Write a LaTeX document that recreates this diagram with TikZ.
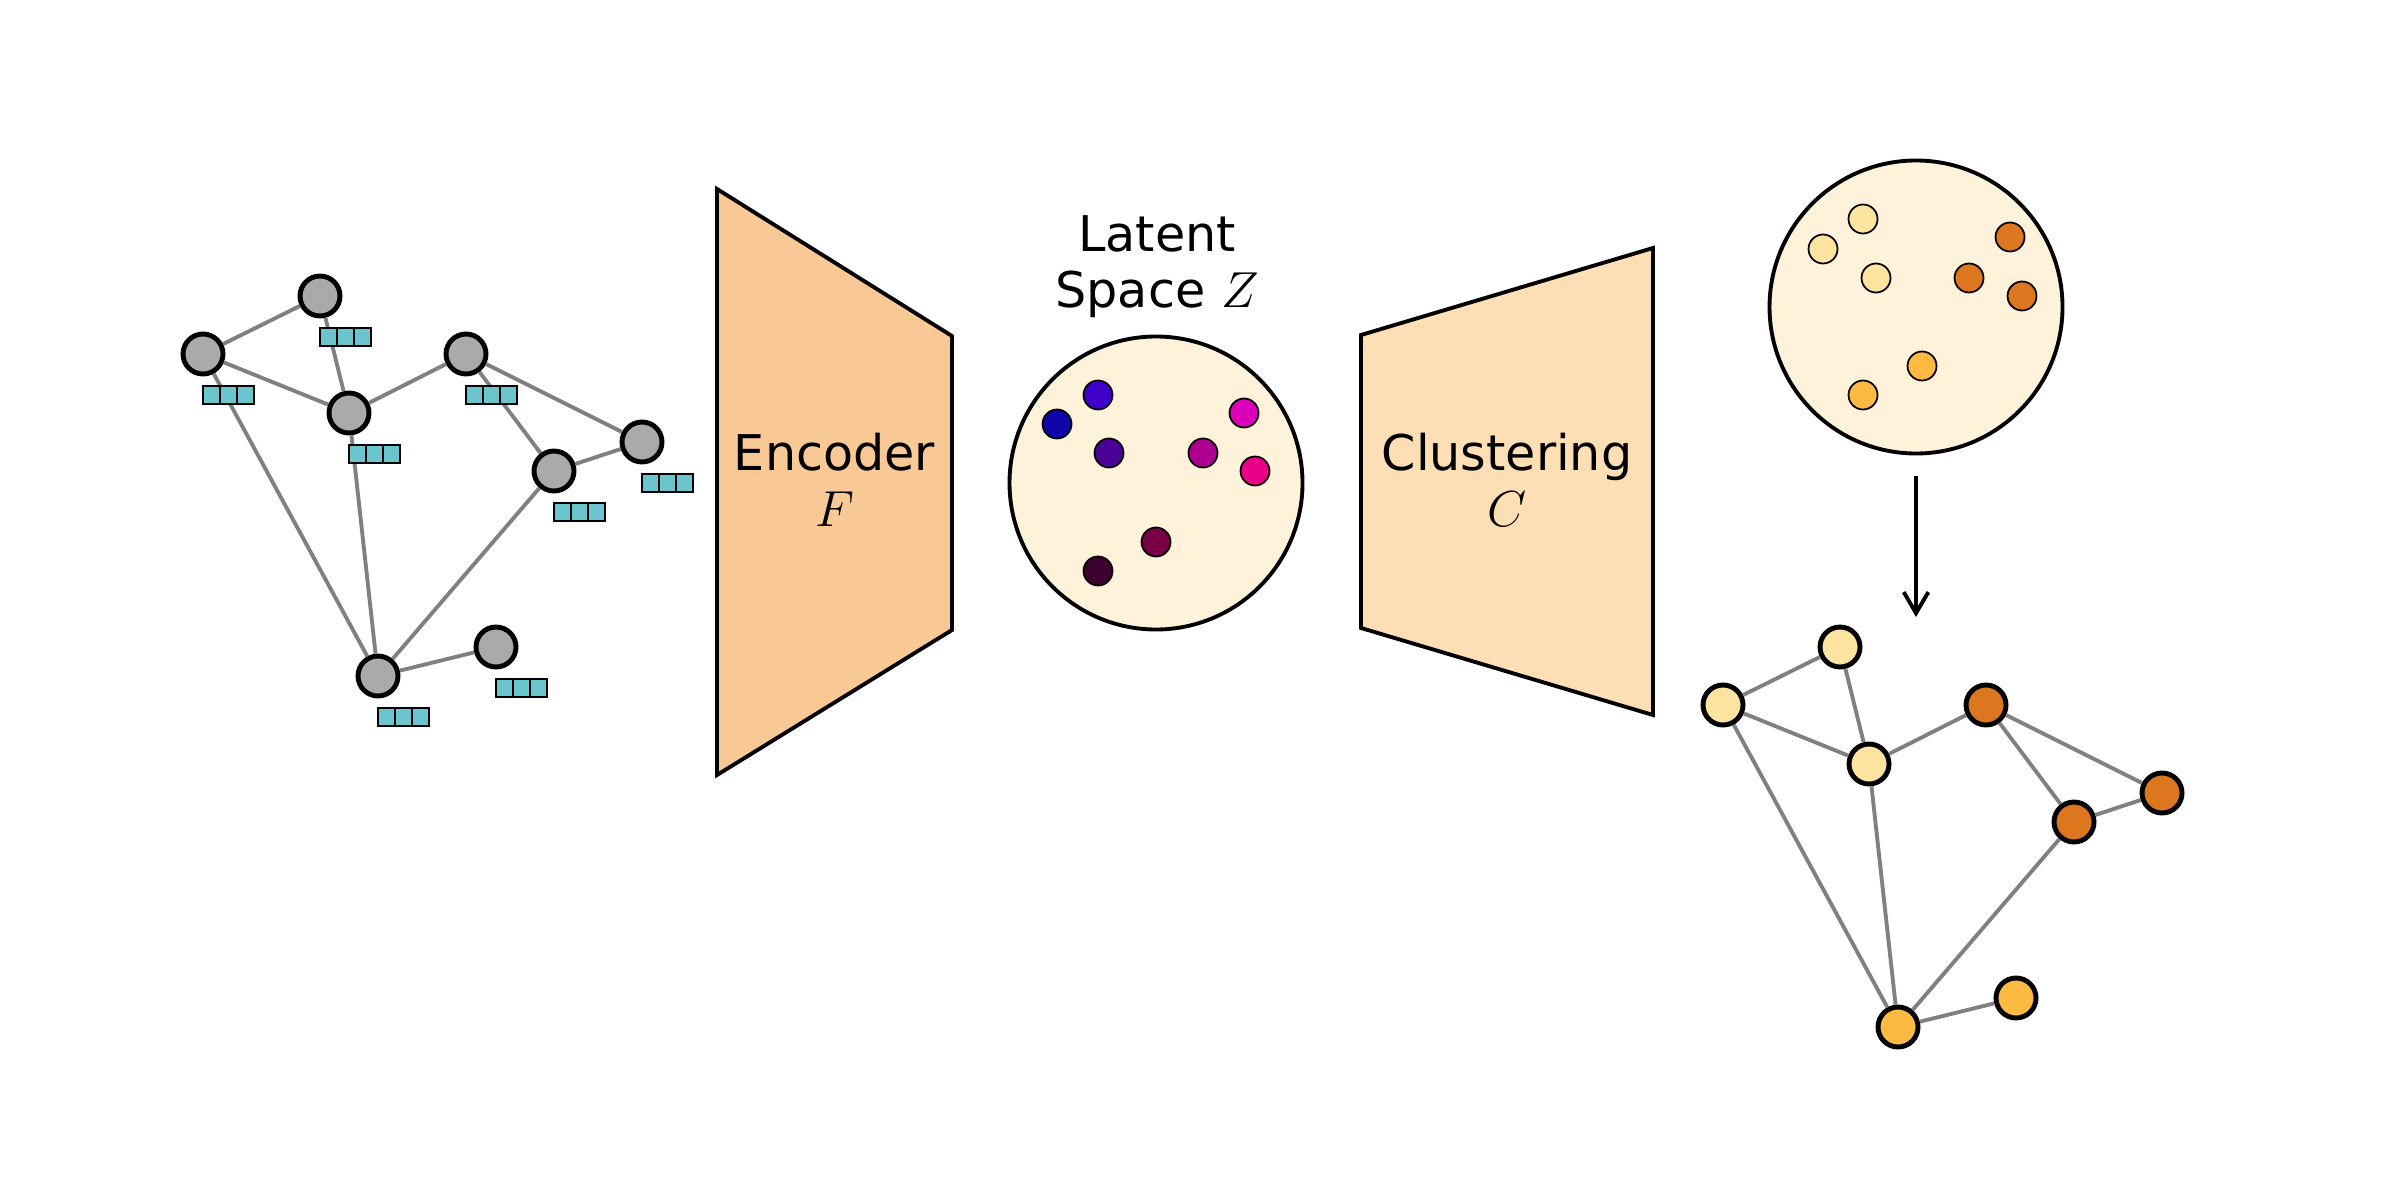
\documentclass[tikz,border=0pt]{standalone}
\usepackage{fontspec}
\setmainfont{DejaVu Sans}
\usetikzlibrary{positioning,arrows.meta}

\definecolor{nodegray}{HTML}{AAAAAA}
\definecolor{edgegray}{HTML}{808080}
\definecolor{featcyan}{HTML}{6BC5CF}
\definecolor{encfill}{HTML}{F8C895}
\definecolor{clusfill}{HTML}{FEDFB5}
\definecolor{spacecream}{HTML}{FFF2DA}
\definecolor{clusterlight}{HTML}{FCE4A0}
\definecolor{clustermid}{HTML}{FDBA42}
\definecolor{clusterdark}{HTML}{DC7720}

\begin{document}
\begin{tikzpicture}[
        gnode/.style={circle, draw, line width=1.4pt, minimum size=0.40cm, inner sep=0pt},
        gedge/.style={draw=edgegray, line width=1.1pt},
        featcell/.style={rectangle, draw, line width=0.5pt, fill=featcyan, minimum width=0.17cm, minimum height=0.18cm, inner sep=0pt, outer sep=0pt},
        latentdot/.style={circle, draw, line width=0.5pt, minimum size=0.29cm, inner sep=0pt},
        spacecircle/.style={circle, draw, line width=1.1pt, fill=spacecream, minimum size=2.93cm, inner sep=0pt},
        stageshape/.style={draw, line width=1.1pt, line join=miter},
        stagetext/.style={font=\fontsize{14}{16}\selectfont, align=center}
    ]
        \useasboundingbox (0,0) rectangle (24,12);

        % Input graph with node features
        \node[gnode, fill=nodegray] (in_a) at (3.20,9.04) {};
        \node[gnode, fill=nodegray] (in_b) at (2.03,8.46) {};
        \node[gnode, fill=nodegray] (in_c) at (3.49,7.87) {};
        \node[gnode, fill=nodegray] (in_d) at (4.66,8.46) {};
        \node[gnode, fill=nodegray] (in_e) at (6.42,7.58) {};
        \node[gnode, fill=nodegray] (in_g) at (5.54,7.29) {};
        \node[gnode, fill=nodegray] (in_h) at (3.78,5.24) {};
        \node[gnode, fill=nodegray] (in_i) at (4.96,5.53) {};

        \draw[gedge] (in_a) -- (in_b);
        \draw[gedge] (in_a) -- (in_c);
        \draw[gedge] (in_b) -- (in_c);
        \draw[gedge] (in_b) -- (in_h);
        \draw[gedge] (in_c) -- (in_d);
        \draw[gedge] (in_c) -- (in_h);
        \draw[gedge] (in_d) -- (in_g);
        \draw[gedge] (in_d) -- (in_e);
        \draw[gedge] (in_g) -- (in_e);
        \draw[gedge] (in_g) -- (in_h);
        \draw[gedge] (in_h) -- (in_i);

        \foreach \n in {a,b,c,d,e,g,h,i} {
            \node[featcell, anchor=north west] (in_\n_f1) at ([yshift=-0.32cm]in_\n.center) {};
            \node[featcell, right=0pt of in_\n_f1] (in_\n_f2) {};
            \node[featcell, right=0pt of in_\n_f2] (in_\n_f3) {};
        }

        % Encoder
        \draw[stageshape, fill=encfill] (7.17,10.11) -- (9.52,8.64) -- (9.52,5.70) -- (7.17,4.25) -- cycle;
        \node[stagetext] (enc_text) at (8.345,7.20) {Encoder\\$F$};

        % Latent space
        \node[stagetext] (latent_text) at (11.57,9.33) {Latent\\Space $Z$};
        \node[spacecircle] (latent_space) at (11.56,7.17) {};
        \node[latentdot, fill={rgb,255:red,64;green,0;blue,204}] (z1) at (10.98,8.05) {};
        \node[latentdot, fill={rgb,255:red,15;green,5;blue,166}] (z2) at (10.57,7.76) {};
        \node[latentdot, fill={rgb,255:red,74;green,3;blue,150}] (z3) at (11.09,7.47) {};
        \node[latentdot, fill={rgb,255:red,219;green,0;blue,186}] (z4) at (12.44,7.87) {};
        \node[latentdot, fill={rgb,255:red,174;green,0;blue,144}] (z5) at (12.03,7.47) {};
        \node[latentdot, fill={rgb,255:red,235;green,0;blue,136}] (z6) at (12.55,7.29) {};
        \node[latentdot, fill={rgb,255:red,122;green,0;blue,70}] (z7) at (11.56,6.58) {};
        \node[latentdot, fill={rgb,255:red,62;green,0;blue,48}] (z8) at (10.98,6.29) {};

        % Clustering
        \draw[stageshape, fill=clusfill] (13.61,8.65) -- (16.53,9.52) -- (16.53,4.85) -- (13.61,5.72) -- cycle;
        \node[stagetext] (clus_text) at (15.07,7.20) {Clustering\\$C$};

        \node[spacecircle] (clust_space) at (19.16,8.93) {};
        \node[latentdot, fill=clusterlight] (c1) at (18.63,9.81) {};
        \node[latentdot, fill=clusterlight] (c2) at (18.23,9.51) {};
        \node[latentdot, fill=clusterlight] (c3) at (18.76,9.22) {};
        \node[latentdot, fill=clusterdark] (c4) at (20.10,9.63) {};
        \node[latentdot, fill=clusterdark] (c5) at (19.69,9.22) {};
        \node[latentdot, fill=clusterdark] (c6) at (20.22,9.04) {};
        \node[latentdot, fill=clustermid] (c7) at (19.22,8.34) {};
        \node[latentdot, fill=clustermid] (c8) at (18.63,8.05) {};

        \coordinate (arrow_end) at (19.16,5.83);
        \draw[-{Straight Barb[length=6pt,width=7pt]}, line width=1.1pt, shorten <=0.21cm] (clust_space) -- (arrow_end);

        % Output graph coloured by cluster
        \node[gnode, fill=clusterlight] (out_a) at (18.40,5.53) {};
        \node[gnode, fill=clusterlight] (out_b) at (17.23,4.95) {};
        \node[gnode, fill=clusterlight] (out_c) at (18.69,4.36) {};
        \node[gnode, fill=clusterdark] (out_d) at (19.86,4.95) {};
        \node[gnode, fill=clusterdark] (out_e) at (21.62,4.07) {};
        \node[gnode, fill=clusterdark] (out_g) at (20.74,3.78) {};
        \node[gnode, fill=clustermid] (out_h) at (18.98,1.73) {};
        \node[gnode, fill=clustermid] (out_i) at (20.16,2.02) {};

        \draw[gedge] (out_a) -- (out_b);
        \draw[gedge] (out_a) -- (out_c);
        \draw[gedge] (out_b) -- (out_c);
        \draw[gedge] (out_b) -- (out_h);
        \draw[gedge] (out_c) -- (out_d);
        \draw[gedge] (out_c) -- (out_h);
        \draw[gedge] (out_d) -- (out_g);
        \draw[gedge] (out_d) -- (out_e);
        \draw[gedge] (out_g) -- (out_e);
        \draw[gedge] (out_g) -- (out_h);
        \draw[gedge] (out_h) -- (out_i);

    \end{tikzpicture}
\end{document}
